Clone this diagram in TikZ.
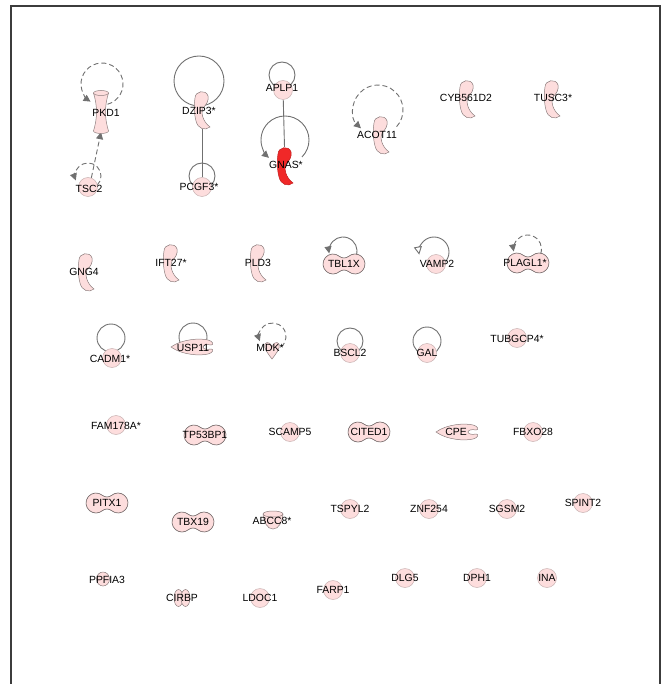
\documentclass[tikz,border=0pt]{standalone}
\usepackage{fontspec}
\newfontfamily\labfont{Liberation Sans}
\usetikzlibrary{arrows.meta}
\definecolor{nodefill}{RGB}{253,221,221}
\definecolor{circline}{RGB}{200,178,178}
\definecolor{shapeline}{RGB}{140,125,125}
\definecolor{lobeline}{RGB}{105,95,95}
\definecolor{gnasred}{RGB}{240,40,40}
\definecolor{edgecol}{RGB}{112,112,112}
\definecolor{framecol}{RGB}{60,60,60}
\pgfdeclarelayer{edges}
\pgfsetlayers{edges,main}
\newcommand\hookpath{(-7,-12) .. controls (-7,-19) and (4,-21) .. (6,-14) .. controls (7,-9) and (4,-5) .. (1,-2) .. controls (-1,2) and (0,11) .. (8,17) .. controls (3,21) and (-4,19) .. (-6,11) .. controls (-8,4) and (-8,-6) .. (-7,-12) -- cycle}
\tikzset{
  gene/.style={circle, draw=circline, fill=nodefill, line width=0.5pt, minimum size=19pt, inner sep=0pt},
  anchorbox/.style={draw=none, fill=none, inner sep=0pt},
  lbl/.style={font=\labfont\fontsize{10.4}{12}\selectfont, inner sep=0pt, text=black},
  shp/.style={fill=nodefill, draw=shapeline, line width=0.5pt},
  edge/.style={draw=edgecol, line width=0.9pt},
  edgedash/.style={edge, dash pattern=on 5pt off 3pt},
  tip/.style={-{Triangle[length=7pt,width=7pt]}},
  opentip/.style={-{Triangle[open,length=8pt,width=8pt,fill=white]}},
  pics/other/.style={code={\path[shp] \hookpath;}},
  pics/otherred/.style={code={\path[shp, fill=gnasred, draw=gnasred!80!black] \hookpath;}},
  pics/ionchannel/.style={code={
    \path[shp] (-7.5,-19) .. controls (-3.5,-6) and (-3.5,6) .. (-7.5,19)
      arc[start angle=180,end angle=0,x radius=7.5,y radius=2.5]
      .. controls (3.5,6) and (3.5,-6) .. (7.5,-19)
      arc[start angle=0,end angle=-180,x radius=7.5,y radius=2.5] -- cycle;
    \draw[shapeline, line width=0.5pt] (-7.5,-19) arc[start angle=180,end angle=0,x radius=7.5,y radius=2.5];
  }},
  pics/twolobe/.style={code={
    \path[fill=nodefill, draw=lobeline, line width=0.6pt] (-4.57,-7.66)
      arc[start angle=-50,end angle=-310,radius=10]
      .. controls (-2,5.5) and (2,5.5) .. (4.57,7.66)
      arc[start angle=130,end angle=-130,radius=10]
      .. controls (2,-5.5) and (-2,-5.5) .. cycle;
  }},
  pics/peptidase/.style={code={
    \path[shp] (-21,0) .. controls (-10,-8) and (8,-9) .. (16,-7)
      .. controls (21,-6) and (22,-2) .. (19,-2)
      .. controls (15,-3) and (11,-2) .. (11,0)
      .. controls (11,2) and (15,3) .. (19,2)
      .. controls (22,2) and (21,6) .. (16,7)
      .. controls (8,9) and (-10,8) .. (-21,0) -- cycle;
  }},
  pics/transporter/.style={code={
    \path[shp] (-10,-6) .. controls (-9,2) and (-6,9) .. (0,9) .. controls (6,9) and (9,2) .. (10,-6)
      arc[start angle=0,end angle=-180,x radius=10,y radius=3] -- cycle;
    \draw[shapeline, line width=0.5pt] (-10,-6) arc[start angle=180,end angle=0,x radius=10,y radius=3];
  }},
  pics/growthfactor/.style={code={
    \path[shp] (0,9) .. controls (-3,5) and (-9,-2) .. (-7,-6) .. controls (-5,-9) and (-1,-7) .. (0,-3)
      .. controls (1,-7) and (5,-9) .. (7,-6) .. controls (9,-2) and (3,5) .. (0,9) -- cycle;
  }},
  pics/translreg/.style={code={
    \path[shp] (-3.5,0) ellipse[x radius=4.5,y radius=8.5];
    \path[shp] (3.5,0) ellipse[x radius=4.5,y radius=8.5];
  }},
  pics/blob/.style={code={
    \path[shp] (0,0) ellipse[x radius=6.5,y radius=7];
  }},
}
\begin{document}
\begin{tikzpicture}[x=1pt,y=-1pt]
\useasboundingbox (0,0) rectangle (670,684);
\draw[framecol, line width=1.2pt] (11,684) -- (11,6) -- (660,6) -- (660,684);

% ---------- circle nodes
\node[gene] (tsc2) at (88,187) {};
\node[gene] (pcgf3) at (202,187) {};
\node[gene] (aplp1) at (283,90) {};
\node[gene] (vamp2) at (436,264) {};
\node[gene] (cadm1) at (112,358) {};
\node[gene] (bscl2) at (350,353) {};
\node[gene] (gal) at (427,353) {};
\node[gene] (tubgcp4) at (517,338) {};
\node[gene] (fam178a) at (116,425) {};
\node[gene] (scamp5) at (290,432) {};
\node[gene] (fbxo28) at (533,432) {};
\node[gene] (tspyl2) at (350,509) {};
\node[gene] (znf254) at (429,509) {};
\node[gene] (sgsm2) at (507,509) {};
\node[gene] (spint2) at (583,503) {};
\node[gene] (ldoc1) at (260,598) {};
\node[gene] (farp1) at (333,590) {};
\node[gene] (dlg5) at (405,578) {};
\node[gene] (dph1) at (477,578) {};
\node[gene] (ina) at (547,578) {};

% ---------- shaped nodes
\pic (pkd1s) at (101,112) {ionchannel};
\node[anchorbox, minimum width=15pt, minimum height=40pt] (pkd1) at (101,112) {};
\pic (dzip3s) at (202,110) {other};
\node[anchorbox, minimum width=15pt, minimum height=38pt] (dzip3) at (202,110) {};
\pic (gnass) at (285,166) {otherred};
\node[anchorbox, minimum width=15pt, minimum height=38pt] (gnas) at (285,166) {};
\pic (acot11s) at (381,135) {other};
\pic (cyb561d2s) at (467,99) {other};
\pic (tusc3s) at (552,99) {other};
\pic (gng4s) at (86,272) {other};
\pic (ift27s) at (171,263) {other};
\pic (pld3s) at (258,263) {other};
\pic (tbl1xs) at (344,264) {twolobe};
\pic (plagl1s) at (528,263) {twolobe};
\pic (tp53bp1s) at (205,435) {twolobe};
\pic (cited1s) at (369,432) {twolobe};
\pic (pitx1s) at (107,503) {twolobe};
\pic (tbx19s) at (193,522) {twolobe};
\pic (usp11s) at (192,347) {peptidase};
\pic (cpes) at (457,432) {peptidase};
\pic (mdks) at (272,350) {growthfactor};
\pic (abcc8s) at (273,520) {transporter};
\pic (ppfia3s) at (103,579) {blob};
\pic (cirbps) at (182,598) {translreg};

% ---------- loop centres
\coordinate (pkd1loop) at (102,84);
\coordinate (tsc2loop) at (88,176);
\coordinate (dzip3loop) at (199,81);
\coordinate (pcgf3loop) at (202,176);
\coordinate (aplp1loop) at (282,75);
\coordinate (gnasloop) at (285,140);
\coordinate (acot11loop) at (378,110);
\coordinate (tbl1xloop) at (343,251);
\coordinate (vamp2loop) at (434,252);
\coordinate (plagl1loop) at (527.5,249);
\coordinate (cadm1loop) at (111,338);
\coordinate (usp11loop) at (193,337);
\coordinate (mdkloop) at (272.5,336.5);
\coordinate (bscl2loop) at (350,341);
\coordinate (galloop) at (427,341);

\begin{pgfonlayer}{edges}
  \draw[edgedash,tip] (tsc2.70) -- (pkd1.south);
  \draw[edge] (dzip3) -- (pcgf3);
  \draw[edge] (aplp1) -- (gnas);
  \draw[edgedash,tip] ([shift={(75:21)}]pkd1loop) arc[start angle=75,end angle=-237,radius=21];
  \draw[edgedash,tip] ([shift={(45:13)}]tsc2loop) arc[start angle=45,end angle=-200,radius=13];
  \draw[edge] (dzip3loop) circle[radius=25];
  \draw[edge] (pcgf3loop) circle[radius=13];
  \draw[edge] (aplp1loop) circle[radius=13];
  \draw[edge,tip] ([shift={(45:24)}]gnasloop) arc[start angle=45,end angle=-228,radius=24];
  \draw[edgedash,tip] ([shift={(42:25)}]acot11loop) arc[start angle=42,end angle=-227,radius=25];
  \draw[edge,tip] ([shift={(20:14)}]tbl1xloop) arc[start angle=20,end angle=-190,radius=14];
  \draw[edge,opentip] ([shift={(45:15)}]vamp2loop) arc[start angle=45,end angle=-190,radius=15];
  \draw[edgedash,tip] ([shift={(20:14)}]plagl1loop) arc[start angle=20,end angle=-190,radius=14];
  \draw[edge] (cadm1loop) circle[radius=14];
  \draw[edge] (usp11loop) circle[radius=14];
  \draw[edgedash,tip] ([shift={(50:13.5)}]mdkloop) arc[start angle=50,end angle=-200,radius=13.5];
  \draw[edge] (bscl2loop) circle[radius=13];
  \draw[edge] (galloop) circle[radius=14];
\end{pgfonlayer}

% ---------- labels
\node[lbl] (pkd1-t) at (106,113) {PKD1};
\node[lbl] (tsc2-t) at (89,189) {TSC2};
\node[lbl] (dzip3-t) at (199,111) {DZIP3*};
\node[lbl] (pcgf3-t) at (199,187) {PCGF3*};
\node[lbl] (aplp1-t) at (282,88) {APLP1};
\node[lbl] (gnas-t) at (286,165) {GNAS*};
\node[lbl] (acot11-t) at (377,135) {ACOT11};
\node[lbl] (cyb561d2-t) at (466,98) {CYB561D2};
\node[lbl] (tusc3-t) at (553,98) {TUSC3*};
\node[lbl] (gng4-t) at (84,272) {GNG4};
\node[lbl] (ift27-t) at (171,263) {IFT27*};
\node[lbl] (pld3-t) at (258,263) {PLD3};
\node[lbl] (tbl1x-t) at (344,264) {TBL1X};
\node[lbl] (vamp2-t) at (437,264) {VAMP2};
\node[lbl] (plagl1-t) at (525,263) {PLAGL1*};
\node[lbl] (cadm1-t) at (110,359) {CADM1*};
\node[lbl] (usp11-t) at (193,348) {USP11};
\node[lbl] (mdk-t) at (270,348) {MDK*};
\node[lbl] (bscl2-t) at (350,353) {BSCL2};
\node[lbl] (gal-t) at (427,353) {GAL};
\node[lbl] (tubgcp4-t) at (517,339) {TUBGCP4*};
\node[lbl] (fam178a-t) at (116,426) {FAM178A*};
\node[lbl] (tp53bp1-t) at (205,435) {TP53BP1};
\node[lbl] (scamp5-t) at (290,432) {SCAMP5};
\node[lbl] (cited1-t) at (369,432) {CITED1};
\node[lbl] (cpe-t) at (456,432) {CPE};
\node[lbl] (fbxo28-t) at (533,432) {FBXO28};
\node[lbl] (pitx1-t) at (107,503) {PITX1};
\node[lbl] (tbx19-t) at (193,522) {TBX19};
\node[lbl] (abcc8-t) at (272,521) {ABCC8*};
\node[lbl] (tspyl2-t) at (350,509) {TSPYL2};
\node[lbl] (znf254-t) at (429,509) {ZNF254};
\node[lbl] (sgsm2-t) at (507,509) {SGSM2};
\node[lbl] (spint2-t) at (583,503) {SPINT2};
\node[lbl] (ppfia3-t) at (107,580) {PPFIA3};
\node[lbl] (cirbp-t) at (182,598) {CIRBP};
\node[lbl] (ldoc1-t) at (260,598) {LDOC1};
\node[lbl] (farp1-t) at (333,590) {FARP1};
\node[lbl] (dlg5-t) at (405,578) {DLG5};
\node[lbl] (dph1-t) at (477,578) {DPH1};
\node[lbl] (ina-t) at (547,578) {INA};
\end{tikzpicture}
\end{document}
